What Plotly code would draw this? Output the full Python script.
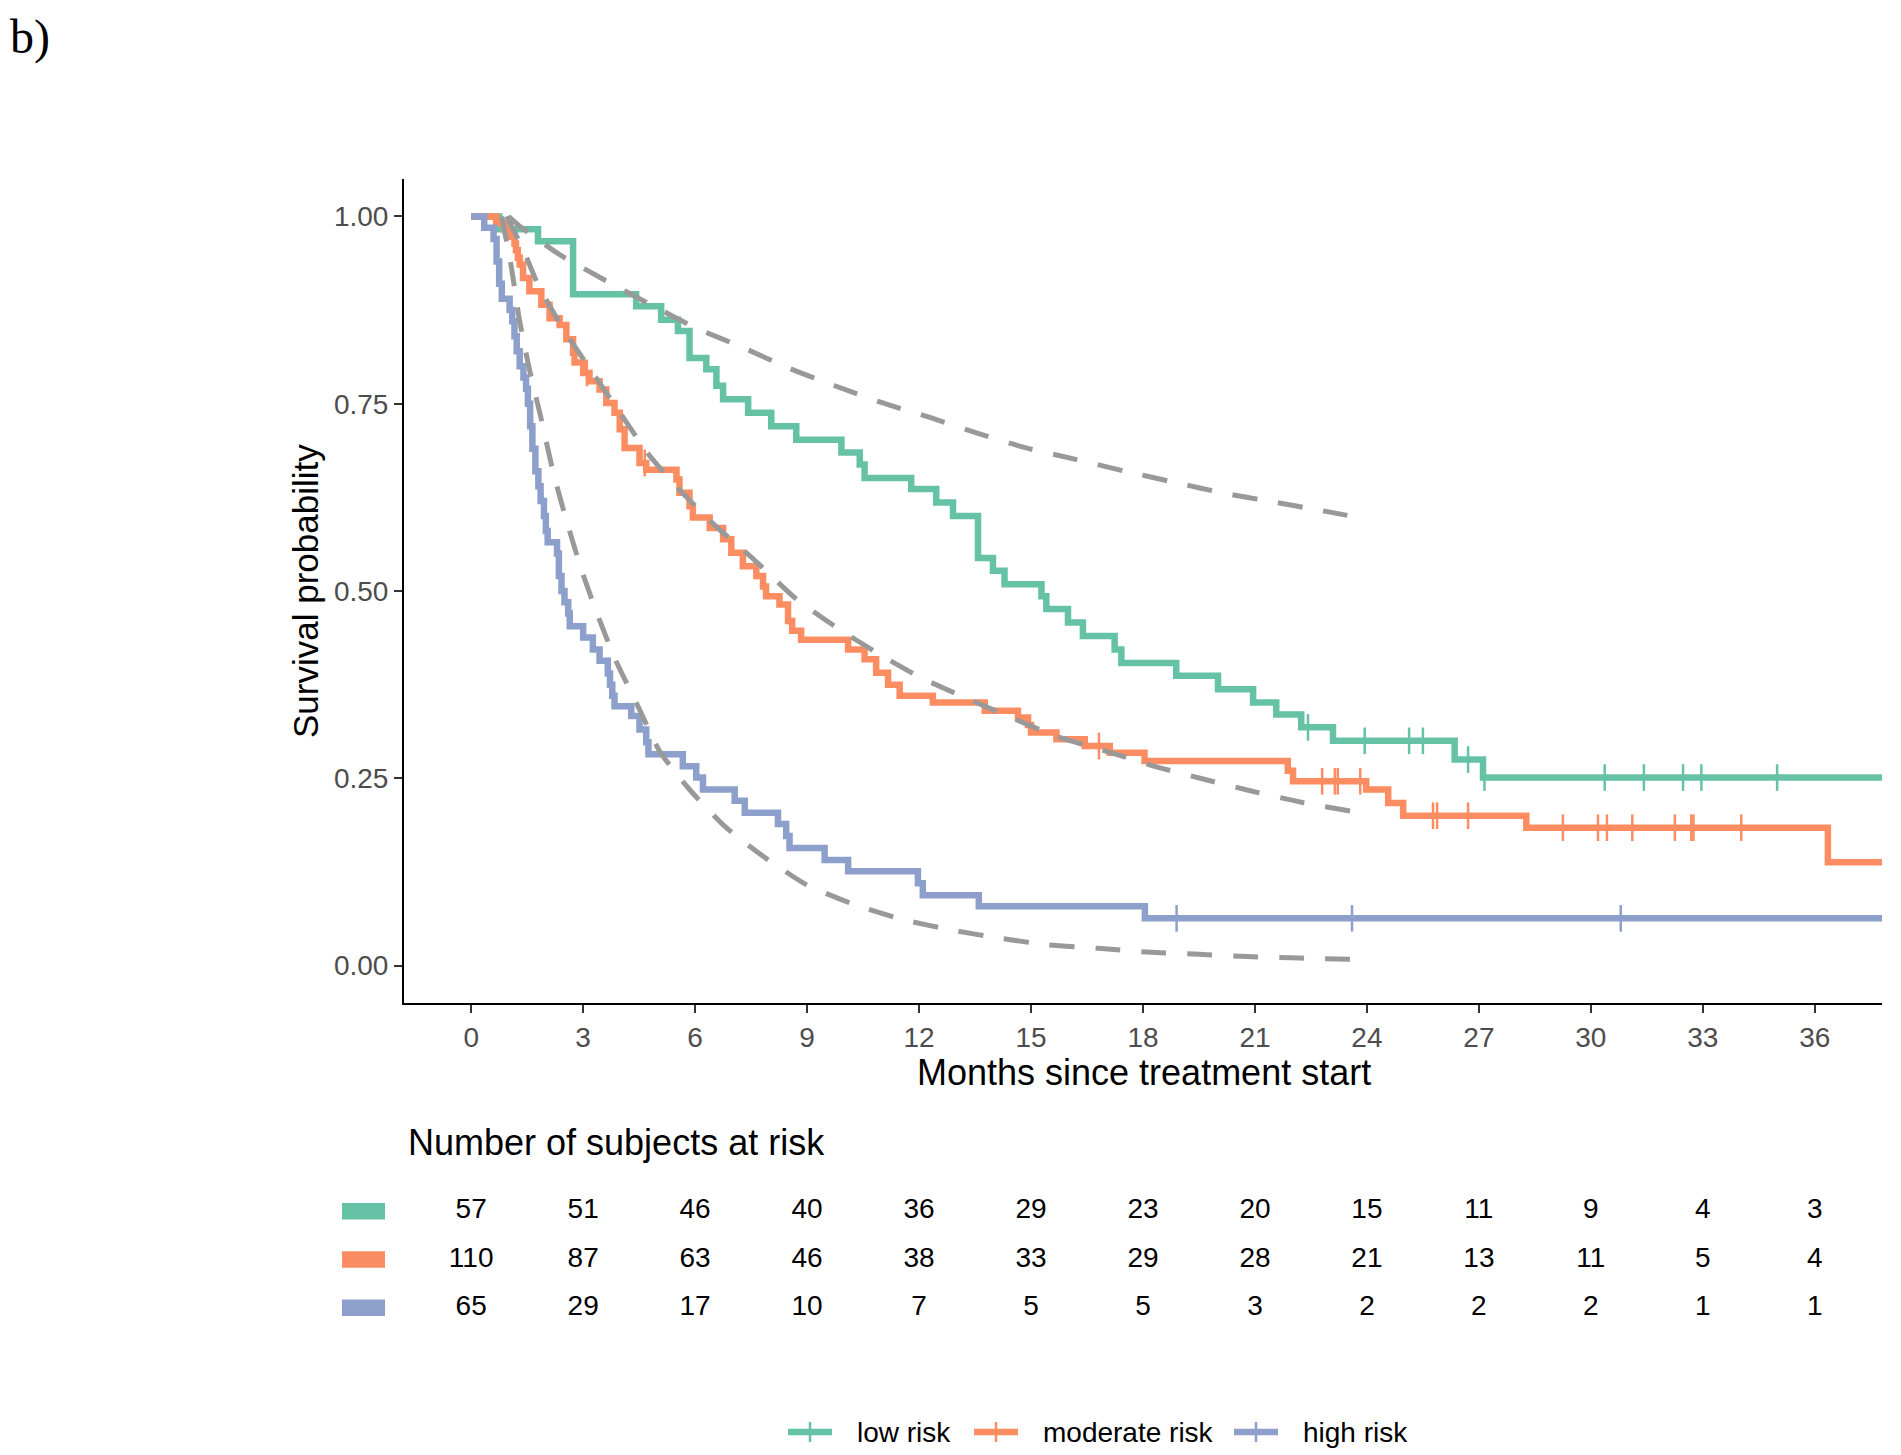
import numpy as np
import plotly.graph_objects as go

# ---------------- data ----------------
groups = ["low risk", "moderate risk", "high risk"]
colors = ["#66C2A5", "#FC8D62", "#8DA0CB"]

low_t = [0, 0.75, 1.79, 2.73, 4.42, 5.09, 5.54, 5.85, 6.30, 6.57, 6.75, 7.42, 8.04, 8.71, 9.92,
         10.41, 10.54, 11.79, 12.46, 12.91, 13.58, 13.98, 14.29, 15.28, 15.41, 15.99, 16.39,
         17.24, 17.42, 18.89, 20.01, 20.95, 21.57, 22.24, 23.09, 26.35, 27.11, 38.0]
low_s = [1.0, 0.983, 0.967, 0.896, 0.880, 0.862, 0.847, 0.811, 0.796, 0.774, 0.756, 0.738,
         0.720, 0.702, 0.685, 0.669, 0.651, 0.636, 0.618, 0.600, 0.544, 0.527, 0.509, 0.493,
         0.476, 0.458, 0.440, 0.422, 0.404, 0.387, 0.369, 0.351, 0.335, 0.318, 0.300, 0.275,
         0.251, 0.251]
low_cens = [22.42, 23.94, 25.13, 25.50, 26.71, 27.15, 30.37, 31.42, 32.47, 32.96, 34.99]

mod_t = [0, 0.67, 0.90, 1.03, 1.16, 1.20, 1.25, 1.30, 1.39, 1.56, 1.88, 2.10, 2.37, 2.55, 2.73,
         2.77, 3.00, 3.17, 3.44, 3.62, 3.84, 3.98, 4.11, 4.51, 4.69, 5.50, 5.58, 5.85, 5.94,
         6.39, 6.75, 6.97, 7.28, 7.64, 7.82, 7.90, 8.26, 8.49, 8.60, 8.84, 10.10, 10.54, 10.85,
         11.17, 11.48, 12.37, 13.76, 14.65, 14.92, 15.00, 15.68, 16.44, 17.11, 18.04, 21.88,
         22.02, 23.98, 24.57, 24.97, 28.27, 36.35, 38.0]
mod_s = [1.0, 0.991, 0.982, 0.973, 0.964, 0.955, 0.945, 0.936, 0.918, 0.900, 0.882, 0.864,
         0.855, 0.836, 0.818, 0.805, 0.791, 0.780, 0.769, 0.751, 0.738, 0.716, 0.691, 0.671,
         0.662, 0.649, 0.631, 0.613, 0.598, 0.584, 0.569, 0.551, 0.533, 0.520, 0.506, 0.493,
         0.482, 0.460, 0.447, 0.435, 0.422, 0.409, 0.391, 0.375, 0.360, 0.351, 0.340, 0.331,
         0.321, 0.311, 0.302, 0.293, 0.284, 0.273, 0.260, 0.246, 0.235, 0.217, 0.200, 0.184,
         0.138, 0.138]
mod_cens = [3.10, 4.65, 16.82, 22.80, 23.14, 23.22, 23.82, 25.77, 25.88, 26.71, 29.25, 30.19,
            30.43, 31.11, 32.25, 32.69, 32.75, 34.03]

high_t = [0, 0.35, 0.60, 0.68, 0.75, 0.82, 1.03, 1.10, 1.16, 1.22, 1.30, 1.40, 1.47, 1.52,
          1.58, 1.64, 1.72, 1.80, 1.86, 1.95, 2.00, 2.05, 2.30, 2.35, 2.42, 2.50, 2.60, 2.64,
          3.00, 3.26, 3.44, 3.66, 3.72, 3.78, 3.84, 4.29, 4.51, 4.69, 4.75, 5.67, 6.03, 6.21,
          7.06, 7.33, 8.22, 8.44, 8.53, 9.47, 10.10, 11.97, 12.10, 13.60, 18.05, 38.0]
high_s = [1.0, 0.985, 0.970, 0.940, 0.910, 0.890, 0.875, 0.860, 0.840, 0.820, 0.800, 0.785,
          0.770, 0.750, 0.720, 0.690, 0.660, 0.640, 0.620, 0.600, 0.580, 0.565, 0.550, 0.520,
          0.500, 0.485, 0.470, 0.453, 0.438, 0.422, 0.407, 0.390, 0.375, 0.360, 0.346, 0.333,
          0.315, 0.298, 0.282, 0.266, 0.251, 0.235, 0.220, 0.204, 0.189, 0.173, 0.157, 0.141,
          0.126, 0.110, 0.094, 0.079, 0.063, 0.063]
high_cens = [18.90, 23.60, 30.80]

# fitted (parametric) curves, dashed grey
low_fit_t = [1.0, 1.25, 2.37, 3.62, 4.78, 6.03, 7.28, 8.49, 9.74, 11.03, 12.33, 13.6, 14.87,
             16.17, 17.51, 18.85, 20.14, 21.48, 22.82, 24.0]
low_fit_s = [1.0, 0.989, 0.949, 0.914, 0.883, 0.851, 0.825, 0.798, 0.774, 0.751, 0.731, 0.710,
             0.691, 0.676, 0.660, 0.645, 0.631, 0.619, 0.607, 0.596]
mod_fit_t = [0.95, 1.4, 1.79, 2.50, 3.22, 3.96, 4.76, 5.66, 6.61, 7.62, 8.67, 9.74, 10.85, 12.06,
             13.22, 14.47, 15.68, 17.02, 18.31, 19.61, 20.90, 22.24, 23.58, 24.0]
mod_fit_s = [1.0, 0.955, 0.909, 0.847, 0.794, 0.740, 0.682, 0.631, 0.584, 0.540, 0.491, 0.453,
             0.418, 0.384, 0.358, 0.331, 0.306, 0.286, 0.266, 0.249, 0.233, 0.218, 0.206, 0.202]
high_fit_t = [0.82, 1.07, 1.30, 1.56, 1.88, 2.19, 2.53, 2.95, 3.35, 3.84, 4.47, 5.05, 5.85, 6.79,
              7.82, 8.98, 10.23, 11.52, 12.82, 14.1, 15.4, 16.8, 18.1, 19.5, 20.8, 22.2, 23.5, 24.0]
high_fit_s = [1.0, 0.934, 0.860, 0.796, 0.729, 0.660, 0.598, 0.529, 0.473, 0.411, 0.346, 0.286,
              0.235, 0.186, 0.146, 0.108, 0.082, 0.062, 0.048, 0.037, 0.028, 0.023, 0.018, 0.015,
              0.012, 0.010, 0.0084, 0.008]

# risk table
risk_months = [0, 3, 6, 9, 12, 15, 18, 21, 24, 27, 30, 33, 36]
risk_low = [57, 51, 46, 40, 36, 29, 23, 20, 15, 11, 9, 4, 3]
risk_mod = [110, 87, 63, 46, 38, 33, 29, 28, 21, 13, 11, 5, 4]
risk_high = [65, 29, 17, 10, 7, 5, 5, 3, 2, 2, 2, 1, 1]

y_ticks = [0.0, 0.25, 0.5, 0.75, 1.0]

# ---------------- layout geometry (page pixels; body has an 8px margin) ----------------
OFF = 8
W, H = 1901 - OFF, 1455 - OFF
ML, MR, MT, MB = 404 - OFF, 1901 - 1882, 179 - OFF, 0
PW = W - ML - MR
PH = H - MT - MB


def px_x(p):
    return (p - OFF - ML) / PW


def px_y(p):
    return (H - MB - (p - OFF)) / PH


FONT = "Liberation Sans, Arial, sans-serif"
LW = 6.5

fig = go.Figure()

km = [(low_t, low_s, low_cens), (mod_t, mod_s, mod_cens), (high_t, high_s, high_cens)]
fits = [(low_fit_t, low_fit_s), (mod_fit_t, mod_fit_s), (high_fit_t, high_fit_s)]

for (t, s, c), col, name in zip(km, colors, groups):
    fig.add_trace(go.Scatter(x=t, y=s, mode="lines", name=name,
                             line=dict(color=col, width=LW, shape="hv"),
                             showlegend=False, hoverinfo="skip"))
    t_arr = np.array(t)
    s_arr = np.array(s)
    idx = np.searchsorted(t_arr, np.array(c), side="right") - 1
    fig.add_trace(go.Scatter(x=c, y=s_arr[idx].tolist(), mode="markers",
                             marker=dict(symbol="line-ns", size=19,
                                         line=dict(color=col, width=2.5)),
                             showlegend=False, hoverinfo="skip"))

for ft, fs in fits:
    fig.add_trace(go.Scatter(x=ft, y=fs, mode="lines",
                             line=dict(color="#999999", width=5, dash="25px,21px",
                                       shape="spline", smoothing=0.6),
                             showlegend=False, hoverinfo="skip"))

# risk table text
for row, vals in enumerate([risk_low, risk_mod, risk_high]):
    fig.add_trace(go.Scatter(x=risk_months, y=[row] * len(risk_months), mode="text",
                             text=[str(v) for v in vals],
                             textfont=dict(family=FONT, size=28, color="black"),
                             xaxis="x2", yaxis="y2", showlegend=False, hoverinfo="skip",
                             cliponaxis=False))

axis_common = dict(showgrid=False, zeroline=False, showline=True, linecolor="black", linewidth=2,
                   ticks="outside", ticklen=8, tickwidth=2, tickcolor="#333333",
                   tickfont=dict(family=FONT, size=28, color="#4D4D4D"), automargin=False)

fig.update_layout(
    width=W, height=H, template="none",
    paper_bgcolor="white", plot_bgcolor="white",
    margin=dict(l=ML, r=MR, t=MT, b=MB, pad=0),
    xaxis=dict(domain=[0, 1], range=[-1.8, 37.8], tickvals=risk_months,
               ticktext=[str(m) for m in risk_months], anchor="y", **axis_common),
    yaxis=dict(domain=[px_y(1003), 1.0], range=[-0.05, 1.05], tickvals=y_ticks,
               ticktext=["%.2f" % v for v in y_ticks], anchor="x", **axis_common),
    xaxis2=dict(domain=[0, 1], range=[-1.8, 37.8], anchor="y2", visible=False),
    yaxis2=dict(domain=[px_y(1332), px_y(1187)], range=[2.5, -0.5], anchor="x2", visible=False),
    showlegend=False,
)

# swatches for the risk table
for row, col in enumerate(colors):
    fig.add_shape(type="rect", xref="paper", yref="y2", x0=px_x(342), x1=px_x(385),
                  y0=row - 0.17, y1=row + 0.17, fillcolor=col, line=dict(width=0))

annotations = [
    dict(text="Survival probability", x=px_x(305), y=px_y(591), xref="paper", yref="paper",
         textangle=-90, showarrow=False, xanchor="center", yanchor="middle",
         font=dict(family=FONT, size=35, color="black")),
    dict(text="Months since treatment start", x=px_x(1144), y=px_y(1072), xref="paper",
         yref="paper", showarrow=False, xanchor="center", yanchor="middle",
         font=dict(family=FONT, size=36, color="black")),
    dict(text="Number of subjects at risk", x=px_x(406), y=px_y(1142), xref="paper",
         yref="paper", showarrow=False, xanchor="left", yanchor="middle",
         font=dict(family=FONT, size=36, color="black")),
    dict(text="b)", x=px_x(OFF), y=px_y(OFF), xref="paper", yref="paper", showarrow=False,
         xanchor="left", yanchor="top",
         font=dict(family="Liberation Serif, Times New Roman, serif", size=48, color="black")),
]

# bottom legend (key line with a censoring tick, then the label)
legend_key_left = [788, 974, 1234]
legend_y = 1432
KEY_LEN, TEXT_GAP = 44, 23
for x0, col, name in zip(legend_key_left, colors, groups):
    fig.add_shape(type="line", xref="paper", yref="paper", x0=px_x(x0), x1=px_x(x0 + KEY_LEN),
                  y0=px_y(legend_y), y1=px_y(legend_y), line=dict(color=col, width=LW))
    xc = x0 + KEY_LEN / 2
    fig.add_shape(type="line", xref="paper", yref="paper", x0=px_x(xc), x1=px_x(xc),
                  y0=px_y(legend_y - 10), y1=px_y(legend_y + 10), line=dict(color=col, width=2.5))
    annotations.append(dict(text=name, x=px_x(x0 + KEY_LEN + TEXT_GAP), y=px_y(legend_y),
                            xref="paper", yref="paper", showarrow=False, xanchor="left",
                            yanchor="middle", font=dict(family=FONT, size=28, color="black")))

fig.update_layout(annotations=annotations)

fig.write_html("out.html")
